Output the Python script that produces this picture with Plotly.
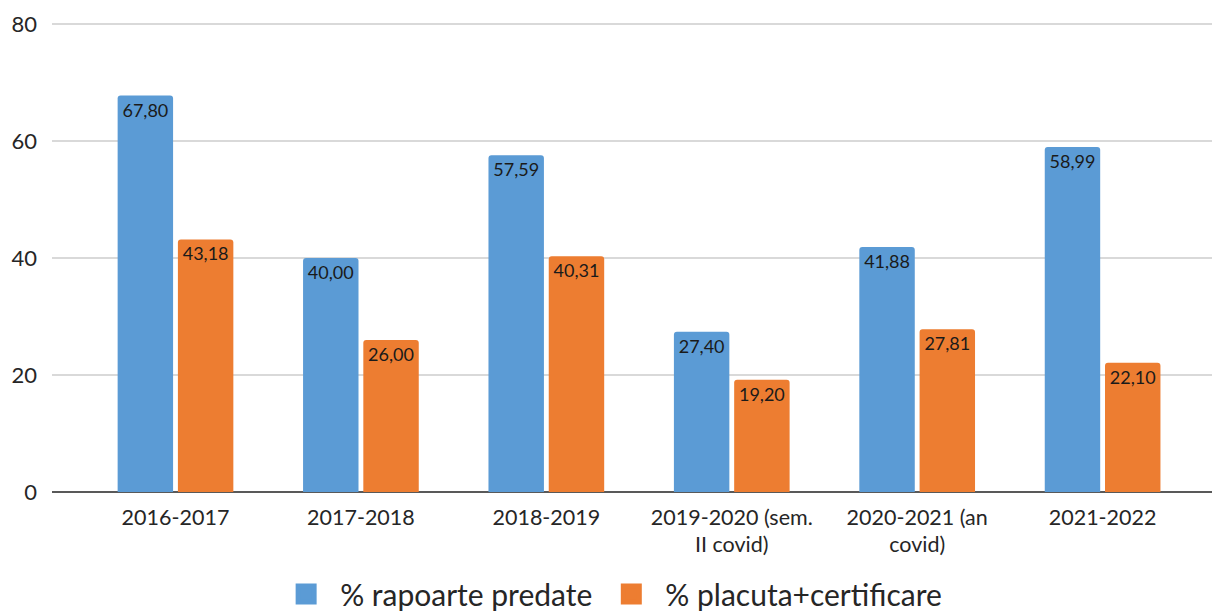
import plotly.graph_objects as go

categories = ["2016-2017", "2017-2018", "2018-2019", "2019-2020 (sem.<br>II covid)",
              "2020-2021 (an<br>covid)", "2021-2022"]
rapoarte = [67.80, 40.00, 57.59, 27.40, 41.88, 58.99]
placuta = [43.18, 26.00, 40.31, 19.20, 27.81, 22.10]
series_names = ["% rapoarte predate", "% placuta+certificare"]
colors = ["#5B9BD5", "#ED7D31"]
y_ticks = [0, 20, 40, 60, 80]

def fmt(v):
    return f"{v:.2f}".replace(".", ",")

FONT = "Lato, Carlito, Calibri, sans-serif"
TXT = "#262626"

fig = go.Figure()
for name, vals, col in zip(series_names, [rapoarte, placuta], colors):
    fig.add_trace(go.Bar(
        x=categories, y=vals, name=name, marker_color=col, marker_line_width=0,
        text=[fmt(v) for v in vals], textposition="inside", insidetextanchor="end",
        textangle=0, textfont=dict(family=FONT, size=18, color="#1a1a1a"),
        constraintext="none", showlegend=False, cliponaxis=False,
    ))
    fig.add_trace(go.Scatter(
        x=[None], y=[None], mode="markers", name=name,
        marker=dict(symbol="square", size=16, color=col, line=dict(color=col, width=5)),
        showlegend=True,
    ))

fig.update_layout(
    width=1212, height=614,
    margin=dict(l=52, r=0, t=23, b=122, autoexpand=False),
    paper_bgcolor="white", plot_bgcolor="white",
    barmode="group", bargap=0.35, bargroupgap=0.08,
    barcornerradius=3,
    font=dict(family=FONT, color=TXT),
    legend=dict(orientation="h", xref="container", yref="paper",
                x=0.503, xanchor="center", y=-0.2175, yanchor="middle",
                font=dict(family=FONT, size=30, color=TXT),
                itemwidth=58, tracegroupgap=0, itemsizing="trace"),
    uniformtext=dict(mode=False),
)
fig.update_xaxes(
    type="category", range=[-0.666, 5.59], showgrid=False,
    showline=False, ticks="", tickfont=dict(family=FONT, size=21.5, color=TXT),
    ticklabelstandoff=10, fixedrange=True, automargin=False,
)
fig.update_yaxes(
    range=[0, 80.2], tickvals=y_ticks, showgrid=True, gridcolor="#d9d9d9", gridwidth=1.5,
    zeroline=True, zerolinecolor="#595959", zerolinewidth=2,
    showline=False, ticks="", ticklabelstandoff=14,
    tickfont=dict(family=FONT, size=22, color=TXT), fixedrange=True, automargin=False,
)

fig.write_html("out.html", config={"displayModeBar": False},
               post_script="document.body.style.margin='0';document.body.style.overflow='hidden';")
